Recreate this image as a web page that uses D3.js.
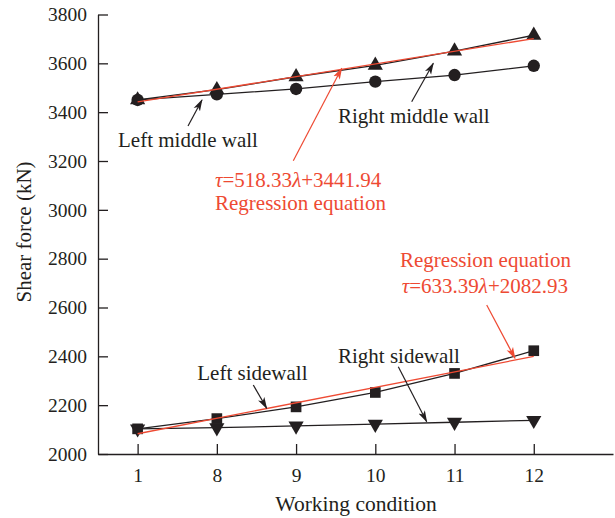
<!DOCTYPE html>
<html>
<head>
<meta charset="utf-8">
<script src="https://cdn.jsdelivr.net/npm/d3@7"></script>
<style>
  body { margin: 0; background: #fff; }
  svg { display: block; font-family: "Liberation Serif", "Times New Roman", serif; }
</style>
</head>
<body>
<div id="app"></div>
<script>
let conditions = ['1', '8', '9', '10', '11', '12'];
let yTicks = [2000, 2200, 2400, 2600, 2800, 3000, 3200, 3400, 3600, 3800];
let rightMiddle = [3450, 3492, 3545, 3592, 3650, 3715];
let leftMiddle = [3450, 3473, 3495, 3525, 3552, 3590];
let leftSide = [2103, 2145, 2193, 2252, 2330, 2423];
let rightSide = [2103, 2108, 2115, 2122, 2130, 2138];
// regression lines: value at first and last condition
let regMiddle = [3441.94, 3701.1];
let regSide = [2082.93, 2399.6];

let width = 615;
let height = 518;
let ink = '#231f20';
let red = '#ee4a33';

let svg = d3.select('#app').append('svg')
    .attr('width', width)
    .attr('height', height);

let defs = svg.append('defs');
[['arrowBlack', ink], ['arrowRed', red]].forEach(function(a) {
  defs.append('marker')
      .attr('id', a[0])
      .attr('viewBox', '0 -4 12 8')
      .attr('refX', 11)
      .attr('refY', 0)
      .attr('markerWidth', 12)
      .attr('markerHeight', 8)
      .attr('markerUnits', 'userSpaceOnUse')
      .attr('orient', 'auto')
    .append('path')
      .attr('d', 'M0,-3.6L12,0L0,3.6L3,0Z')
      .attr('fill', a[1]);
});

let x = d3.scaleLinear()
          .domain([-0.5, 6])
          .range([98, 613]);

let y = d3.scaleLinear()
          .domain([2000, 3800])
          .range([454, 14.5]);

let xAxis = d3.axisBottom(x)
              .tickValues(d3.range(conditions.length))
              .tickFormat(function(i) { return conditions[i]; })
              .tickSizeInner(-10)
              .tickSizeOuter(0)
              .tickPadding(14);

let yAxis = d3.axisLeft(y)
              .tickValues(yTicks)
              .tickFormat(d3.format('d'))
              .tickSizeInner(-10)
              .tickSizeOuter(0)
              .tickPadding(11);

let gx = svg.append('g')
    .attr('transform', 'translate(0,454)')
    .call(xAxis);

let gy = svg.append('g')
    .attr('transform', 'translate(98,0)')
    .call(yAxis);

[gx, gy].forEach(function(g) {
  g.selectAll('path, line').attr('stroke', ink).attr('stroke-width', 1.3);
  g.selectAll('text')
   .attr('fill', ink)
   .style('font-family', '"Liberation Serif", serif')
   .style('font-size', '19.5px');
});

svg.append('text')
    .attr('x', 356)
    .attr('y', 511)
    .attr('text-anchor', 'middle')
    .attr('fill', ink)
    .style('font-size', '21.5px')
    .text('Working condition');

svg.append('text')
    .attr('transform', 'translate(31,232) rotate(-90)')
    .attr('text-anchor', 'middle')
    .attr('fill', ink)
    .style('font-size', '21px')
    .text('Shear force (kN)');

let line = d3.line()
             .x(function(d, i) { return x(i); })
             .y(function(d) { return y(d); });

let series = [
  { values: leftMiddle, symbol: d3.symbolCircle, size: 120, rotate: 0 },
  { values: rightMiddle, symbol: d3.symbolTriangle, size: 100, rotate: 0 },
  { values: rightSide, symbol: d3.symbolTriangle, size: 100, rotate: 180 },
  { values: leftSide, symbol: d3.symbolSquare, size: 114, rotate: 0 }
];

series.forEach(function(s) {
  svg.append('path')
      .datum(s.values)
      .attr('fill', 'none')
      .attr('stroke', ink)
      .attr('stroke-width', 1.3)
      .attr('d', line);

  svg.append('g').selectAll('path')
      .data(s.values)
      .enter()
      .append('path')
        .attr('d', d3.symbol().type(s.symbol).size(s.size))
        .attr('fill', ink)
        .attr('transform', function(d, i) {
          return 'translate(' + x(i) + ',' + y(d) + ') rotate(' + s.rotate + ')';
        });
});

[regMiddle, regSide].forEach(function(r) {
  svg.append('line')
      .attr('x1', x(0))
      .attr('y1', y(r[0]))
      .attr('x2', x(conditions.length - 1))
      .attr('y2', y(r[1]))
      .attr('stroke', red)
      .attr('stroke-width', 1.3);
});

// annotation arrows
let arrows = [
  [188, 126, 202, 100, 'arrowBlack', ink],
  [411.7, 101.7, 433.3, 63.3, 'arrowBlack', ink],
  [293.3, 160.7, 341.7, 68.3, 'arrowRed', red],
  [486.7, 305, 515, 358.3, 'arrowRed', red],
  [253.3, 385, 266.7, 408.3, 'arrowBlack', ink],
  [398.3, 366.7, 426.7, 421.7, 'arrowBlack', ink]
];

arrows.forEach(function(a) {
  svg.append('line')
      .attr('x1', a[0]).attr('y1', a[1])
      .attr('x2', a[2]).attr('y2', a[3])
      .attr('stroke', a[5])
      .attr('stroke-width', 1.2)
      .attr('marker-end', 'url(#' + a[4] + ')');
});

let labels = [
  [118, 146.7, ink, 'Left middle wall'],
  [338, 123.3, ink, 'Right middle wall'],
  [215, 210, red, 'Regression equation'],
  [400, 266.7, red, 'Regression equation'],
  [197.3, 380, ink, 'Left sidewall'],
  [338, 362.7, ink, 'Right sidewall']
];

labels.forEach(function(l) {
  svg.append('text')
      .attr('x', l[0])
      .attr('y', l[1])
      .attr('fill', l[2])
      .style('font-size', '21px')
      .text(l[3]);
});

let equations = [
  [215, 187.3, '518.33', '3441.94'],
  [401.7, 293.3, '633.39', '2082.93']
];

equations.forEach(function(e) {
  let t = svg.append('text')
      .attr('x', e[0])
      .attr('y', e[1])
      .attr('fill', red)
      .style('font-size', '21px');
  t.append('tspan').style('font-style', 'italic').text('τ');
  t.append('tspan').text('=' + e[2]);
  t.append('tspan').style('font-style', 'italic').text('λ');
  t.append('tspan').text('+' + e[3]);
});
</script>
</body>
</html>
